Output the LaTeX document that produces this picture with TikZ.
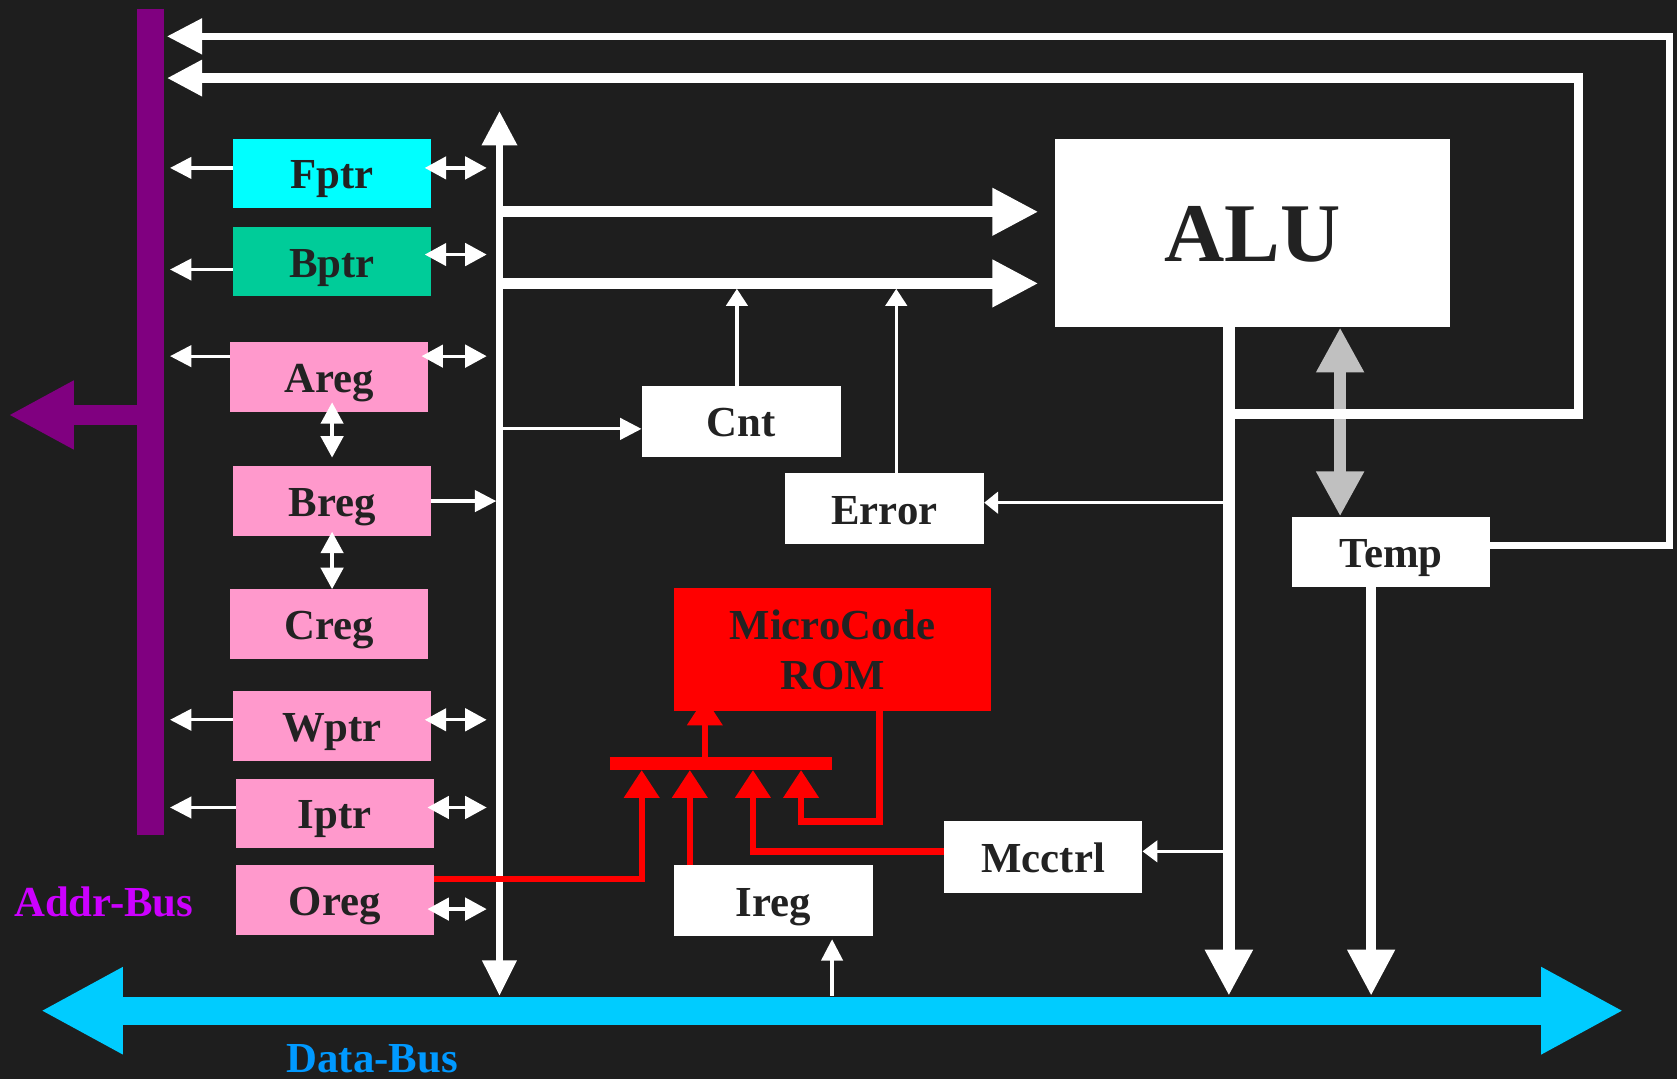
\documentclass[tikz,border=0pt]{standalone}
\usepackage{fontspec}
\setmainfont{Liberation Serif}
\usetikzlibrary{arrows.meta, calc, backgrounds}
\definecolor{BgDark}{HTML}{1E1E1E}
\definecolor{TextDark}{HTML}{222222}
\definecolor{AddrPurple}{HTML}{800080}
\definecolor{AddrText}{HTML}{CC00FF}
\definecolor{DataCyan}{HTML}{00CCFF}
\definecolor{DataText}{HTML}{0099FF}
\definecolor{FptrCyan}{HTML}{00FFFF}
\definecolor{BptrGreen}{HTML}{00CC99}
\definecolor{RegPink}{HTML}{FF99CC}
\definecolor{LinkGray}{HTML}{C0C0C0}

\begin{document}
\begin{tikzpicture}[x=1pt, y=-1pt,
        regbox/.style={rectangle, inner sep=0pt, minimum width=185pt, minimum height=65pt, font=\bfseries\fontsize{40}{47}\selectfont, text=TextDark, text height=29pt, text depth=0pt},
        unit/.style={regbox, fill=white},
        buslbl/.style={inner sep=0pt, font=\bfseries\fontsize{40}{47}\selectfont},
        sig/.style={white, line width=3pt, -{Triangle[length=20pt, width=20pt]}},
        dsig/.style={white, line width=3pt, {Triangle[length=20pt, width=21pt]}-{Triangle[length=20pt, width=21pt]}},
        wide/.style={white, line width=10pt, -{Triangle[length=43pt, width=42pt]}},
        ret/.style={white, line width=7pt, -{Triangle[length=33pt, width=32pt]}},
        ctl/.style={red, line width=6pt, -{Triangle[length=26pt, width=32pt]}}
      ]
        \useasboundingbox (0,0) rectangle (1568,1009);

        % registers
        \node[regbox, fill=FptrCyan] (fptr) at (310.5,162) {Fptr};
        \node[regbox, fill=BptrGreen] (bptr) at (310.5,244.5) {Bptr};
        \node[regbox, fill=RegPink] (areg) at (307.5,352.5) {Areg};
        \node[regbox, fill=RegPink] (breg) at (310.5,468.5) {Breg};
        \node[regbox, fill=RegPink] (creg) at (307.5,583.5) {Creg};
        \node[regbox, fill=RegPink] (wptr) at (310.5,679) {Wptr};
        \node[regbox, fill=RegPink] (iptr) at (313,760.5) {Iptr};
        \node[regbox, fill=RegPink] (oreg) at (313,841.5) {Oreg};

        % units
        \node[unit, minimum width=370pt, minimum height=176pt, font=\bfseries\fontsize{78}{90}\selectfont, text height=53pt] (alu) at (1171,218) {ALU};
        \node[unit, minimum width=186pt, minimum height=66pt] (cnt) at (693,394) {Cnt};
        \node[unit, minimum width=186pt, minimum height=67pt] (err) at (827,475.5) {Error};
        \node[unit, minimum height=66pt] (temp) at (1300.5,516) {Temp};
        \node[rectangle, inner sep=0pt, fill=red, minimum width=297pt, minimum height=115pt, align=center, text=TextDark, font=\bfseries\fontsize{40}{47}\selectfont] (rom) at (778.5,607.5) {MicroCode\\ROM};
        \node[unit, minimum width=186pt, minimum height=66pt] (ireg) at (723,842) {Ireg};
        \node[unit, minimum height=67pt] (mcc) at (975.5,801.5) {Mcctrl};

        \node[buslbl, text=AddrText] (addrlbl) at (97,843) {Addr-Bus};
        \node[buslbl, text=DataText] (datalbl) at (348,990) {Data-Bus};

        % bus ends and corners
        \coordinate (abtop) at (140.5,8);
        \coordinate (abbot) at (140.5,781);
        \coordinate (abtip) at (8,388);
        \coordinate (abR) at (159,8);
        \coordinate (dbl) at (38,945);
        \coordinate (dbr) at (1518,945);
        \coordinate (bustop) at (467,104);
        \coordinate (busbot) at (467,931);
        \coordinate (busL) at (455,104);
        \coordinate (ret1) at (1561,34);
        \coordinate (tip1) at (156,34);
        \coordinate (fb2) at (1149,387);
        \coordinate (ret2) at (1476,73);
        \coordinate (tip2) at (156,73);
        \coordinate (barl) at (570,714);
        \coordinate (barr) at (778,714);
        \coordinate (barup) at (659,708);
        \coordinate (ina) at (600,720);
        \coordinate (inb) at (645,720);
        \coordinate (inc) at (704,720);
        \coordinate (ind) at (749,720);
        \coordinate (loopd) at (749,768);

        \begin{pgfonlayer}{background}
          \fill[BgDark] (0,0) rectangle (1568,1009);
          \draw[ctl] (barup) -- ([xshift=-119.5pt, yshift=13pt]rom.south);
        \end{pgfonlayer}

        % address bus
        \draw[AddrPurple, line width=25pt] (abtop) -- (abbot);
        \draw[AddrPurple, line width=18pt, -{Triangle[length=61pt, width=60pt]}] (abbot |- abtip) -- (abtip);

        % data bus
        \draw[DataCyan, line width=26pt, {Triangle[length=77pt, width=76pt]}-{Triangle[length=77pt, width=76pt]}] (dbl) -- (dbr);
        \draw[white, line width=6pt, {Triangle[length=32pt, width=32pt]}-{Triangle[length=33pt, width=31pt]}] (bustop) -- (busbot);

        % registers to buses
        \foreach \r/\dy in {fptr/5, bptr/-7.5, areg/19.5, wptr/6, iptr/5.5}
          \draw[sig] ([yshift=\dy pt]\r.west) -- ([yshift=\dy pt]\r.west -| abR);
        \foreach \r/\dy in {fptr/5, bptr/6.5, areg/19.5, wptr/6, iptr/5.5, oreg/-8.5}
          \draw[dsig, shorten <=-6pt] ([yshift=\dy pt]\r.east) -- ([yshift=\dy pt]\r.east -| busL);
        \draw[sig, shorten >=3pt] (breg.east) -- (breg.east -| bustop);
        \draw[dsig, shorten <=-9pt, shorten >=8pt] (breg.north |- areg.south) -- (breg.north);
        \draw[dsig, shorten <=-4pt] (breg.south) -- (breg.south |- creg.north);

        % bus into ALU
        \draw[wide, shorten >=15pt] ([yshift=20pt]alu.west -| bustop) -- ([yshift=20pt]alu.west);
        \draw[wide, shorten >=15pt] ([yshift=-47pt]alu.west -| bustop) -- ([yshift=-47pt]alu.west);
        \draw[sig] ([yshift=-7pt]cnt.west -| bustop) -- ([yshift=-7pt]cnt.west);
        \draw[sig, -{Triangle[length=16pt, width=20pt]}] ([xshift=-4pt]cnt.north) -- ([xshift=-4pt, yshift=-52pt]alu.west -| cnt.north);
        \draw[sig, -{Triangle[length=16pt, width=20pt]}] ([xshift=11pt]err.north) -- ([xshift=11pt, yshift=-52pt]alu.west -| err.north);

        % ALU out
        \draw[wide, line width=11pt] ([xshift=-22pt]alu.south) -- ([xshift=-22pt]alu.south |- busbot);
        \draw[wide] ([xshift=-18.5pt]temp.south) -- ([xshift=-18.5pt]temp.south |- busbot);
        \draw[LinkGray, line width=11pt, {Triangle[length=42pt, width=42pt]}-{Triangle[length=42pt, width=42pt]}] ([xshift=82pt]alu.south) -- ([xshift=82pt]alu.south |- temp.north);
        \draw[ret] ([yshift=6pt]temp.east) -| (ret1) -- (tip1);
        \draw[ret, line width=9pt] (fb2) -| (ret2) -- (tip2);
        \draw[sig, -{Triangle[length=13pt, width=20pt]}] ([yshift=5.5pt]err.east -| fb2) -- ([yshift=5.5pt]err.east);
        \draw[sig, -{Triangle[length=14pt, width=20pt]}] ([yshift=5.5pt]mcc.east -| fb2) -- ([yshift=5.5pt]mcc.east);
        \draw[sig] ([xshift=55pt]ireg.south |- busbot) -- ([xshift=55pt, yshift=-3pt]ireg.south);

        % microcode select
        \draw[red, line width=12pt] (barl) -- (barr);
        \draw[ctl] ([yshift=19.5pt]oreg.east) -| (ina);
        \draw[ctl] ([xshift=-78pt]ireg.north) -- (inb);
        \draw[ctl] ([yshift=5.5pt]mcc.west) -| (inc);
        \draw[ctl] ([xshift=44pt]rom.south) |- (loopd) -- (ind);
      \end{tikzpicture}
\end{document}
